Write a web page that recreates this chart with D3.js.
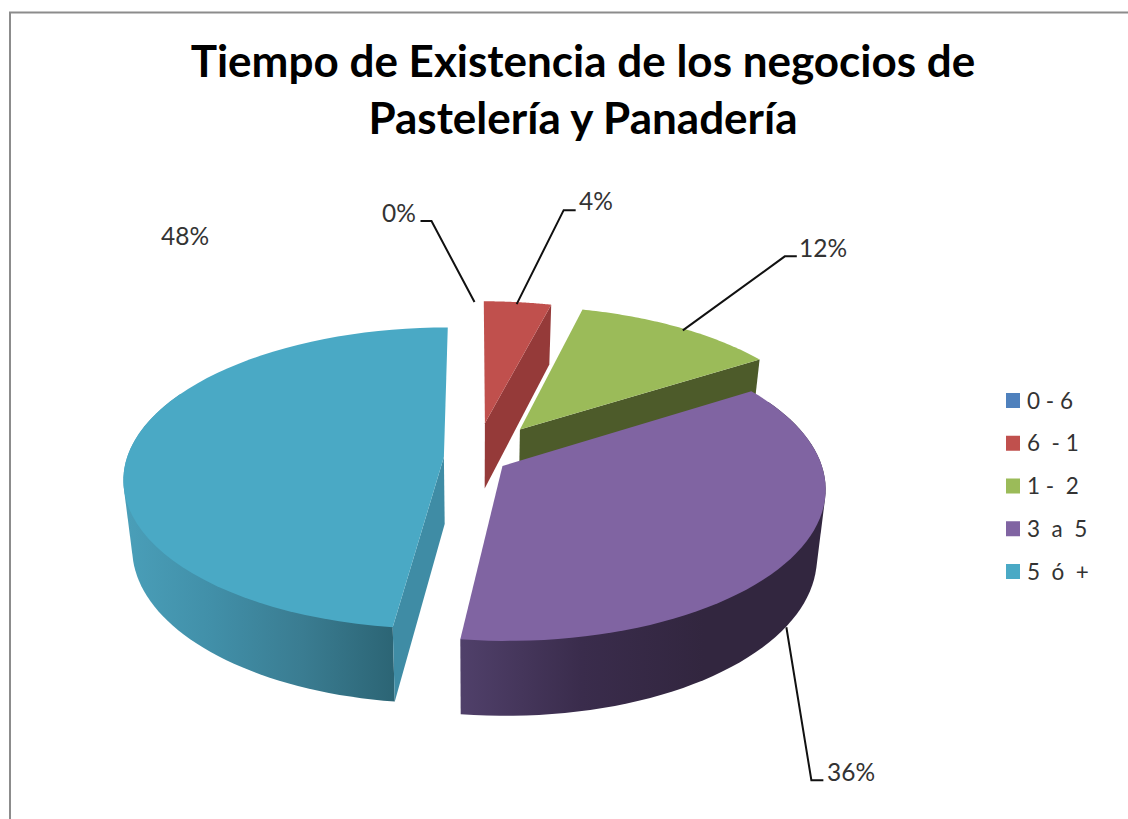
<!DOCTYPE html>
<html lang="es">
<head>
<meta charset="utf-8">
<script src="https://cdn.jsdelivr.net/npm/d3@7"></script>
<style>
  html, body { margin: 0; background: #fff; }
  svg { display: block; }
  text { font-family: Lato, "Open Sans", sans-serif; white-space: pre; }
</style>
</head>
<body>
<svg id="chart" width="1128" height="819"></svg>
<script>
// Chart content
const titleLines = ["Tiempo de Existencia de los negocios de", "Pastelería y Panadería"];
const categories = ["0 - 6", "6  - 1", "1 -  2", "3  a  5", "5  ó  +"];
const shares = [0, 4, 12, 36, 48];
const percentLabels = ["0%", "4%", "12%", "36%", "48%"];
const explode = [0.245, 0.245, 0.245, 0.1, 0.1];

// Palette for the top face, the flat cut faces and the curved wall
const topColors = ["#4F81BD", "#C0504D", "#9BBB59", "#8064A2", "#4AA9C5"];
const cutColors = ["#3c6391", "#953A39", "#4D5B2A", "#4f3d66", "#3F8CA5"];
const wallStops = {
  3: ["#50406a", "#3a2c4c", "#32263f", "#32263f"],
  4: ["#4a9fb9", "#418fa8", "#3a7c91", "#2c6575"]
};

const svg = d3.select("#chart");

// Perspective projection of the pie disc: u points right, v towards the viewer
const view = { cx: 475.5, cy: 458, rx: 317, ry: 148, k: 0.14, depth: 67, depthK: 0.1, shrink: 0.975 };

function topPoint(u, v) {
  const w = 1 - view.k * v;
  return [view.cx + view.rx * u / w, view.cy + view.ry * v / w];
}
function bottomPoint(u, v) {
  const [x, y] = topPoint(u, v);
  return [view.cx + (x - view.cx) * view.shrink, y + view.depth / (1 - view.depthK * v)];
}

const pie = d3.pie().sort(null).value(d => d);
const arcs = pie(shares).map((d, i) => {
  const mid = (d.startAngle + d.endAngle) / 2;
  return {
    index: i,
    start: d.startAngle,
    end: d.endAngle,
    mid,
    ox: explode[i] * Math.sin(mid),
    oy: -explode[i] * Math.cos(mid)
  };
});

const rim = (a, angle, project) =>
  project(a.ox + Math.sin(angle), a.oy - Math.cos(angle));
const sweep = (from, to) => d3.range(0, 61).map(t => from + (to - from) * t / 60);
const line = d3.line();

const defs = svg.append("defs");

// Chart frame, open at the right and bottom where the sheet is cropped
svg.append("path")
  .attr("d", line([[10, 819], [10, 12.5], [1128, 12.5]]))
  .attr("fill", "none")
  .attr("stroke", "#8c8c8c")
  .attr("stroke-width", 2);

// Slices are painted back to front
const paintOrder = [1, 2, 4, 3];
const slices = svg.append("g").attr("class", "pie");

paintOrder.forEach(i => {
  const a = arcs[i];
  const apexTop = topPoint(a.ox, a.oy);
  const apexBottom = bottomPoint(a.ox, a.oy);
  const g = slices.append("g");

  // Curved outer wall, only for slices that reach the front half.
  // The hull of both rims gives the straight silhouette at the sides of the drum.
  if (wallStops[i]) {
    const from = Math.max(a.start, Math.PI * 0.35);
    const to = Math.min(a.end, Math.PI * 1.65);
    const upper = sweep(from, to).map(t => rim(a, t, topPoint));
    const lower = sweep(from, to).map(t => rim(a, t, bottomPoint));
    const xs = upper.concat(lower).map(p => p[0]);
    const id = "wall-" + i;
    const grad = defs.append("linearGradient")
      .attr("id", id)
      .attr("gradientUnits", "userSpaceOnUse")
      .attr("x1", i === 4 ? d3.min(xs) : rim(a, a.end, topPoint)[0])
      .attr("x2", i === 4 ? rim(a, a.start, topPoint)[0] : d3.max(xs))
      .attr("y1", 0).attr("y2", 0);
    wallStops[i].forEach((c, n) => {
      grad.append("stop").attr("offset", n / (wallStops[i].length - 1)).attr("stop-color", c);
    });
    g.append("path")
      .attr("d", line(d3.polygonHull(upper.concat(lower))) + "Z")
      .attr("fill", `url(#${id})`);
  }

  // Flat cut face along the clockwise or counter-clockwise edge
  const cutAngle = i === 4 ? a.start : a.end;
  if (i !== 3) {
    g.append("path")
      .attr("d", line([
        apexTop,
        rim(a, cutAngle, topPoint),
        rim(a, cutAngle, bottomPoint),
        apexBottom
      ]) + "Z")
      .attr("fill", cutColors[i]);
  }

  // Top face
  g.append("path")
    .attr("d", line([apexTop].concat(sweep(a.start, a.end).map(t => rim(a, t, topPoint)))) + "Z")
    .attr("fill", topColors[i]);
});

// Leader lines hang off each slice's middle angle; the purple one off its lower rim.
// Each entry is a list of offsets from that rim point.
const leaderBends = {
  0: [[-1, 1], [-44, -80], [-55, -80]],
  1: [[-1, 2], [46, -92], [58, -92]],
  2: [[4, 3], [106, -71], [118, -71]],
  3: [[-2, 3], [23, 156], [35, 156]]
};
const leaders = svg.append("g").attr("class", "leaders");
Object.keys(leaderBends).forEach(key => {
  const i = +key;
  const a = arcs[i];
  const start = rim(a, a.mid, i === 3 ? bottomPoint : topPoint);
  const pts = leaderBends[i].map(b => [start[0] + b[0], start[1] + b[1]]);
  leaders.append("path")
    .attr("d", line(pts))
    .attr("fill", "none")
    .attr("stroke", "#111")
    .attr("stroke-width", 2);
});

// Percentage labels
const labelSpots = [
  { x: 399, y: 222 },
  { x: 596, y: 210 },
  { x: 823, y: 257 },
  { x: 851, y: 781 },
  { x: 185, y: 245 }
];
svg.append("g").attr("class", "labels")
  .selectAll("text")
  .data(percentLabels)
  .join("text")
  .attr("x", (d, i) => labelSpots[i].x)
  .attr("y", (d, i) => labelSpots[i].y)
  .attr("text-anchor", "middle")
  .attr("font-size", 24.5)
  .attr("fill", "#333")
  .text(d => d);

// Title
svg.append("g").attr("class", "title")
  .selectAll("text")
  .data(titleLines)
  .join("text")
  .attr("x", 583)
  .attr("y", (d, i) => 77 + i * 57)
  .attr("text-anchor", "middle")
  .attr("font-size", 44)
  .attr("font-weight", 700)
  .attr("fill", "#000")
  .text(d => d);

// Legend
const legendY = d3.scalePoint().domain(d3.range(categories.length)).range([400.5, 571.5]);
const legend = svg.append("g").attr("class", "legend")
  .selectAll("g")
  .data(categories)
  .join("g")
  .attr("transform", (d, i) => `translate(1006,${legendY(i)})`);
legend.append("rect")
  .attr("x", 0).attr("y", -7.5)
  .attr("width", 14).attr("height", 15)
  .attr("fill", (d, i) => topColors[i]);
legend.append("text")
  .attr("x", 21).attr("y", 8)
  .attr("font-size", 22.5)
  .attr("fill", "#333")
  .text(d => d);
</script>
</body>
</html>
